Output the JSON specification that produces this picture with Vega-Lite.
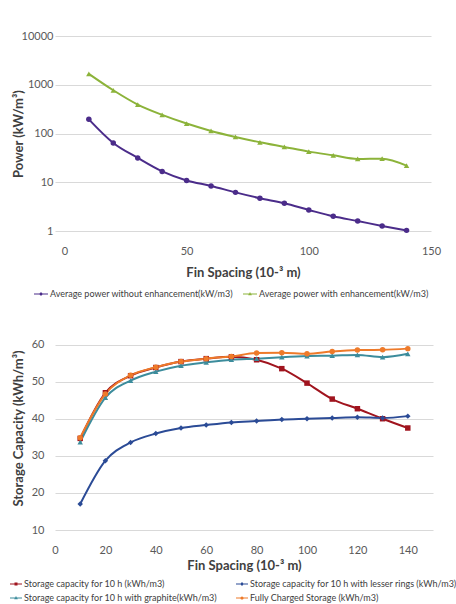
{
  "$schema": "https://vega.github.io/schema/vega-lite/v6.json",
  "background": "white",
  "padding": {"left": 10, "top": 30, "right": 0, "bottom": 0},
  "spacing": 27,
  "config": {
    "font": "Lato",
    "view": {"stroke": null},
    "axis": {
      "labelFont": "Lato", "labelFontSize": 11, "labelColor": "#595959",
      "titleFont": "Lato", "titleFontSize": 13, "titleFontWeight": "bold", "titleColor": "#404040",
      "gridColor": "#d9d9d9", "gridWidth": 1, "ticks": false, "domain": false, "labelPadding": 11, "labelFlush": false
    },
    "legend": {"labelFont": "Lato", "labelColor": "#404040", "labelLimit": 0}
  },
  "resolve": {"scale": {"color": "independent", "x": "independent", "y": "independent"}},
  "vconcat": [
    {
      "width": 376,
      "height": 195,
      "data": {"values": [
        {"x": 10, "v": 195, "s": "Average power without enhancement(kW/m3)"},
        {"x": 20, "v": 64, "s": "Average power without enhancement(kW/m3)"},
        {"x": 30, "v": 31.6, "s": "Average power without enhancement(kW/m3)"},
        {"x": 40, "v": 16.7, "s": "Average power without enhancement(kW/m3)"},
        {"x": 50, "v": 10.9, "s": "Average power without enhancement(kW/m3)"},
        {"x": 60, "v": 8.4, "s": "Average power without enhancement(kW/m3)"},
        {"x": 70, "v": 6.2, "s": "Average power without enhancement(kW/m3)"},
        {"x": 80, "v": 4.7, "s": "Average power without enhancement(kW/m3)"},
        {"x": 90, "v": 3.7, "s": "Average power without enhancement(kW/m3)"},
        {"x": 100, "v": 2.7, "s": "Average power without enhancement(kW/m3)"},
        {"x": 110, "v": 2.0, "s": "Average power without enhancement(kW/m3)"},
        {"x": 120, "v": 1.6, "s": "Average power without enhancement(kW/m3)"},
        {"x": 130, "v": 1.27, "s": "Average power without enhancement(kW/m3)"},
        {"x": 140, "v": 1.03, "s": "Average power without enhancement(kW/m3)"},
        {"x": 10, "v": 1675, "s": "Average power with enhancement(kW/m3)"},
        {"x": 20, "v": 771, "s": "Average power with enhancement(kW/m3)"},
        {"x": 30, "v": 392, "s": "Average power with enhancement(kW/m3)"},
        {"x": 40, "v": 241, "s": "Average power with enhancement(kW/m3)"},
        {"x": 50, "v": 160, "s": "Average power with enhancement(kW/m3)"},
        {"x": 60, "v": 113, "s": "Average power with enhancement(kW/m3)"},
        {"x": 70, "v": 85, "s": "Average power with enhancement(kW/m3)"},
        {"x": 80, "v": 66, "s": "Average power with enhancement(kW/m3)"},
        {"x": 90, "v": 53, "s": "Average power with enhancement(kW/m3)"},
        {"x": 100, "v": 42.5, "s": "Average power with enhancement(kW/m3)"},
        {"x": 110, "v": 35.7, "s": "Average power with enhancement(kW/m3)"},
        {"x": 120, "v": 30, "s": "Average power with enhancement(kW/m3)"},
        {"x": 130, "v": 30.5, "s": "Average power with enhancement(kW/m3)"},
        {"x": 140, "v": 21.9, "s": "Average power with enhancement(kW/m3)"}
      ]},
      "encoding": {
        "x": {"field": "x", "type": "quantitative", "scale": {"domain": [-3.85, 150], "nice": false, "zero": false},
              "axis": {"values": [0, 50, 100, 150], "grid": false, "title": "Fin Spacing (10-³ m)", "labelPadding": 14, "titlePadding": 10}},
        "y": {"field": "v", "type": "quantitative", "scale": {"type": "log", "domain": [1, 10000], "nice": false},
              "axis": {"values": [1, 10, 100, 1000, 10000], "format": ".0f", "title": "Power (kW/m³)", "titlePadding": -4, "labelPadding": 2, "grid": true}},
        "color": {"field": "s", "type": "nominal",
                  "scale": {"domain": ["Average power without enhancement(kW/m3)", "Average power with enhancement(kW/m3)"], "range": ["#4B2C8A", "#8CB33A"]},
                  "legend": {"title": null, "orient": "none", "legendX": -21, "legendY": 251, "direction": "horizontal", "labelFontSize": 9,
                             "symbolSize": 196, "columnPadding": 9, "labelOffset": 2,
                             "encode": {"symbols": {"update": {
                               "shape": {"signal": "datum.value == 'Average power with enhancement(kW/m3)' ? 'M-1,-0.07H1V0.07H-1Z M0,-0.28L0.26,0.18H-0.26Z' : 'M-1,-0.07H1V0.07H-1Z M0.22,0A0.22,0.22 0 1,1 -0.22,0A0.22,0.22 0 1,1 0.22,0Z'"},
                               "fill": {"signal": "datum.value == 'Average power with enhancement(kW/m3)' ? '#8CB33A' : '#4B2C8A'"},
                               "stroke": {"value": "transparent"},
                               "strokeWidth": {"value": 0},
                               "opacity": {"value": 1}}}}}}
      },
      "layer": [
        {"mark": {"type": "line", "interpolate": "monotone", "strokeWidth": 2}},
        {"mark": {"type": "point", "filled": true, "opacity": 1, "size": 30},
         "encoding": {
           "shape": {"condition": {"test": "datum.s == 'Average power with enhancement(kW/m3)'", "value": "triangle-up"}, "value": "circle"}
         }}
      ]
    },
    {
      "width": 378,
      "height": 204,
      "data": {"values": [
        {"x": 10, "v": 34.7, "s": "Storage capacity for 10 h (kWh/m3)"},
        {"x": 20, "v": 47.0, "s": "Storage capacity for 10 h (kWh/m3)"},
        {"x": 30, "v": 51.6, "s": "Storage capacity for 10 h (kWh/m3)"},
        {"x": 40, "v": 53.8, "s": "Storage capacity for 10 h (kWh/m3)"},
        {"x": 50, "v": 55.4, "s": "Storage capacity for 10 h (kWh/m3)"},
        {"x": 60, "v": 56.2, "s": "Storage capacity for 10 h (kWh/m3)"},
        {"x": 70, "v": 56.7, "s": "Storage capacity for 10 h (kWh/m3)"},
        {"x": 80, "v": 55.9, "s": "Storage capacity for 10 h (kWh/m3)"},
        {"x": 90, "v": 53.5, "s": "Storage capacity for 10 h (kWh/m3)"},
        {"x": 100, "v": 49.6, "s": "Storage capacity for 10 h (kWh/m3)"},
        {"x": 110, "v": 45.3, "s": "Storage capacity for 10 h (kWh/m3)"},
        {"x": 120, "v": 42.7, "s": "Storage capacity for 10 h (kWh/m3)"},
        {"x": 130, "v": 40.0, "s": "Storage capacity for 10 h (kWh/m3)"},
        {"x": 140, "v": 37.5, "s": "Storage capacity for 10 h (kWh/m3)"},
        {"x": 10, "v": 17.0, "s": "Storage capacity for 10 h with lesser rings (kWh/m3)"},
        {"x": 20, "v": 28.7, "s": "Storage capacity for 10 h with lesser rings (kWh/m3)"},
        {"x": 30, "v": 33.6, "s": "Storage capacity for 10 h with lesser rings (kWh/m3)"},
        {"x": 40, "v": 36.0, "s": "Storage capacity for 10 h with lesser rings (kWh/m3)"},
        {"x": 50, "v": 37.5, "s": "Storage capacity for 10 h with lesser rings (kWh/m3)"},
        {"x": 60, "v": 38.3, "s": "Storage capacity for 10 h with lesser rings (kWh/m3)"},
        {"x": 70, "v": 39.0, "s": "Storage capacity for 10 h with lesser rings (kWh/m3)"},
        {"x": 80, "v": 39.4, "s": "Storage capacity for 10 h with lesser rings (kWh/m3)"},
        {"x": 90, "v": 39.8, "s": "Storage capacity for 10 h with lesser rings (kWh/m3)"},
        {"x": 100, "v": 40.0, "s": "Storage capacity for 10 h with lesser rings (kWh/m3)"},
        {"x": 110, "v": 40.2, "s": "Storage capacity for 10 h with lesser rings (kWh/m3)"},
        {"x": 120, "v": 40.4, "s": "Storage capacity for 10 h with lesser rings (kWh/m3)"},
        {"x": 130, "v": 40.2, "s": "Storage capacity for 10 h with lesser rings (kWh/m3)"},
        {"x": 140, "v": 40.7, "s": "Storage capacity for 10 h with lesser rings (kWh/m3)"},
        {"x": 10, "v": 33.7, "s": "Storage capacity for 10 h with graphite(kWh/m3)"},
        {"x": 20, "v": 45.7, "s": "Storage capacity for 10 h with graphite(kWh/m3)"},
        {"x": 30, "v": 50.3, "s": "Storage capacity for 10 h with graphite(kWh/m3)"},
        {"x": 40, "v": 52.7, "s": "Storage capacity for 10 h with graphite(kWh/m3)"},
        {"x": 50, "v": 54.3, "s": "Storage capacity for 10 h with graphite(kWh/m3)"},
        {"x": 60, "v": 55.2, "s": "Storage capacity for 10 h with graphite(kWh/m3)"},
        {"x": 70, "v": 55.9, "s": "Storage capacity for 10 h with graphite(kWh/m3)"},
        {"x": 80, "v": 56.2, "s": "Storage capacity for 10 h with graphite(kWh/m3)"},
        {"x": 90, "v": 56.6, "s": "Storage capacity for 10 h with graphite(kWh/m3)"},
        {"x": 100, "v": 56.9, "s": "Storage capacity for 10 h with graphite(kWh/m3)"},
        {"x": 110, "v": 57.0, "s": "Storage capacity for 10 h with graphite(kWh/m3)"},
        {"x": 120, "v": 57.2, "s": "Storage capacity for 10 h with graphite(kWh/m3)"},
        {"x": 130, "v": 56.6, "s": "Storage capacity for 10 h with graphite(kWh/m3)"},
        {"x": 140, "v": 57.5, "s": "Storage capacity for 10 h with graphite(kWh/m3)"},
        {"x": 10, "v": 34.9, "s": "Fully Charged Storage (kWh/m3)"},
        {"x": 20, "v": 46.7, "s": "Fully Charged Storage (kWh/m3)"},
        {"x": 30, "v": 51.7, "s": "Fully Charged Storage (kWh/m3)"},
        {"x": 40, "v": 53.9, "s": "Fully Charged Storage (kWh/m3)"},
        {"x": 50, "v": 55.4, "s": "Fully Charged Storage (kWh/m3)"},
        {"x": 60, "v": 56.2, "s": "Fully Charged Storage (kWh/m3)"},
        {"x": 70, "v": 56.8, "s": "Fully Charged Storage (kWh/m3)"},
        {"x": 80, "v": 57.7, "s": "Fully Charged Storage (kWh/m3)"},
        {"x": 90, "v": 57.8, "s": "Fully Charged Storage (kWh/m3)"},
        {"x": 100, "v": 57.5, "s": "Fully Charged Storage (kWh/m3)"},
        {"x": 110, "v": 58.1, "s": "Fully Charged Storage (kWh/m3)"},
        {"x": 120, "v": 58.5, "s": "Fully Charged Storage (kWh/m3)"},
        {"x": 130, "v": 58.6, "s": "Fully Charged Storage (kWh/m3)"},
        {"x": 140, "v": 58.9, "s": "Fully Charged Storage (kWh/m3)"}
      ]},
      "encoding": {
        "x": {"field": "x", "type": "quantitative", "scale": {"domain": [0, 150], "nice": false},
              "axis": {"values": [0, 20, 40, 60, 80, 100, 120, 140], "grid": false, "title": "Fin Spacing (10-³ m)", "labelPadding": 14, "titlePadding": 4}},
        "y": {"field": "v", "type": "quantitative", "scale": {"domain": [10, 65], "nice": false, "zero": false},
              "axis": {"values": [10, 20, 30, 40, 50, 60], "title": "Storage Capacity (kWh/m³)", "titlePadding": 6}},
        "color": {"field": "s", "type": "nominal",
                  "scale": {"domain": ["Storage capacity for 10 h (kWh/m3)", "Storage capacity for 10 h with lesser rings (kWh/m3)", "Storage capacity for 10 h with graphite(kWh/m3)", "Fully Charged Storage (kWh/m3)"],
                            "range": ["#A0141E", "#2B4B96", "#3C8C9C", "#EE7A2A"]},
                  "legend": {"title": null, "orient": "none", "legendX": -45, "legendY": 252, "direction": "horizontal", "columns": 2, "labelFontSize": 9,
                             "symbolSize": 144, "columnPadding": 18, "rowPadding": 3, "labelOffset": 2,
                             "encode": {"symbols": {"update": {
                               "shape": {"signal": "datum.value == 'Storage capacity for 10 h (kWh/m3)' ? 'M-1,-0.09H1V0.09H-1Z M-0.25,-0.25H0.25V0.25H-0.25Z' : datum.value == 'Storage capacity for 10 h with lesser rings (kWh/m3)' ? 'M-1,-0.09H1V0.09H-1Z M0,-0.32L0.3,0L0,0.32L-0.3,0Z' : datum.value == 'Storage capacity for 10 h with graphite(kWh/m3)' ? 'M-1,-0.09H1V0.09H-1Z M0,-0.32L0.3,0.22H-0.3Z' : 'M-1,-0.09H1V0.09H-1Z M0.27,0A0.27,0.27 0 1,1 -0.27,0A0.27,0.27 0 1,1 0.27,0Z'"},
                               "fill": {"signal": "datum.value == 'Storage capacity for 10 h (kWh/m3)' ? '#A0141E' : datum.value == 'Storage capacity for 10 h with lesser rings (kWh/m3)' ? '#2B4B96' : datum.value == 'Storage capacity for 10 h with graphite(kWh/m3)' ? '#3C8C9C' : '#EE7A2A'"},
                               "stroke": {"value": "transparent"},
                               "strokeWidth": {"value": 0},
                               "opacity": {"value": 1}}}}}}
      },
      "layer": [
        {"mark": {"type": "line", "interpolate": "monotone", "strokeWidth": 2}},
        {"mark": {"type": "point", "filled": true, "opacity": 1, "size": 30},
         "encoding": {
           "shape": {"condition": [
             {"test": "datum.s == 'Storage capacity for 10 h (kWh/m3)'", "value": "square"},
             {"test": "datum.s == 'Storage capacity for 10 h with lesser rings (kWh/m3)'", "value": "diamond"},
             {"test": "datum.s == 'Storage capacity for 10 h with graphite(kWh/m3)'", "value": "triangle-up"}
           ], "value": "circle"}
         }}
      ]
    }
  ]
}
